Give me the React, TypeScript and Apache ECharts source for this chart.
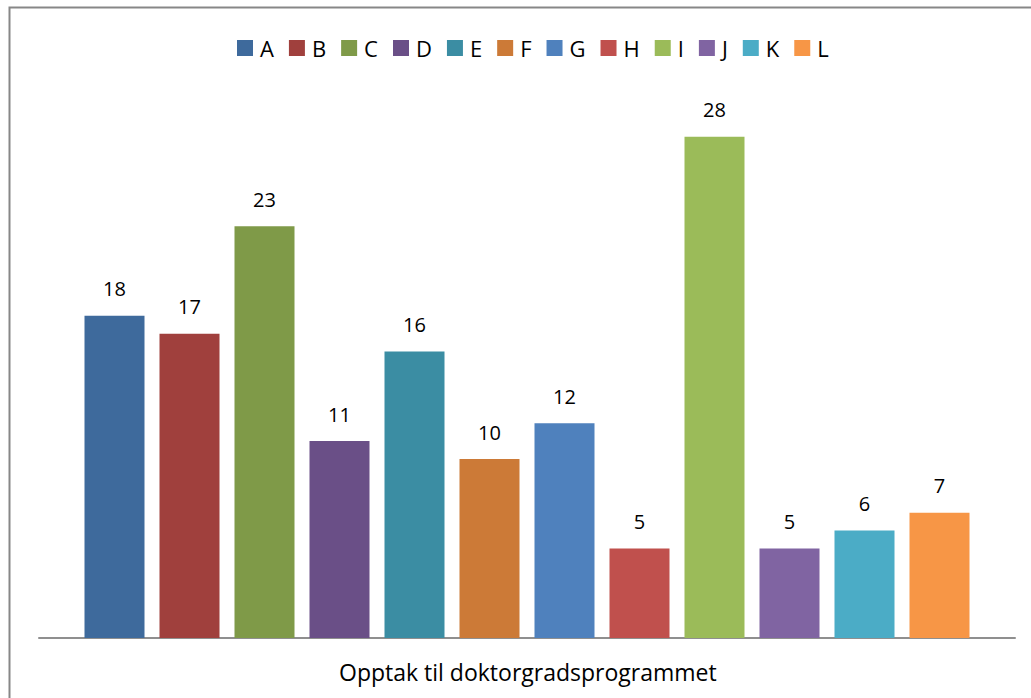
import React, { useEffect, useRef } from "react";
import * as echarts from "echarts";

// Admissions per unit
const seriesNames = ["A", "B", "C", "D", "E", "F", "G", "H", "I", "J", "K", "L"];
const admissions = [18, 17, 23, 11, 16, 10, 12, 5, 28, 5, 6, 7];
const barColors = [
  "#3E6A9C", "#A0403D", "#7F9A48", "#6A4F87", "#3B8DA3", "#CC7A37",
  "#4F81BD", "#C0504D", "#9BBB59", "#8064A2", "#4BACC6", "#F79646",
];
const categoryLabel = "Opptak til doktorgradsprogrammet";

const FONT = "'Open Sans', 'Noto Sans', sans-serif";

export default function App() {
  const ref = useRef<HTMLDivElement>(null);

  useEffect(() => {
    if (!ref.current) return;
    const chart = echarts.init(ref.current, undefined, { renderer: "svg" });
    chart.setOption({
      animation: false,
      backgroundColor: "#ffffff",
      legend: {
        left: 232,
        top: 32,
        itemWidth: 16,
        itemHeight: 16,
        itemGap: 15,
        icon: "rect",
        textStyle: {
          fontFamily: FONT,
          fontSize: 22,
          color: "#000",
          padding: [0, 0, 0, 2],
        },
        data: seriesNames,
      },
      title: {
        text: categoryLabel,
        left: 334,
        top: 655,
        textStyle: { fontFamily: FONT, fontSize: 23, fontWeight: "normal", color: "#000" },
      },
      grid: { left: 39, right: 16, top: 101, bottom: 60 },
      xAxis: {
        type: "category",
        data: [""],
        axisLine: { lineStyle: { color: "#8f8f8f", width: 2 } },
        axisTick: { show: false },
        axisLabel: { show: false },
      },
      yAxis: {
        type: "value",
        min: 0,
        max: 30,
        show: false,
        splitLine: { show: false },
      },
      graphic: [
        {
          type: "rect",
          shape: { x: 9.5, y: 7.5, width: 1040, height: 710 },
          style: { fill: "none", stroke: "#878787", lineWidth: 2 },
          silent: true,
        },
      ],
      series: seriesNames.map((name, i) => ({
        name,
        type: "bar",
        data: [admissions[i]],
        barWidth: 60,
        barGap: "25%",
        itemStyle: { color: barColors[i] },
        label: {
          show: true,
          position: "top",
          distance: 17,
          fontFamily: FONT,
          fontSize: 20,
          color: "#000",
        },
      })),
    });
    return () => chart.dispose();
  }, []);

  return (
    <div
      ref={ref}
      style={{ position: "fixed", left: 0, top: 0, width: 1031, height: 698 }}
    />
  );
}
